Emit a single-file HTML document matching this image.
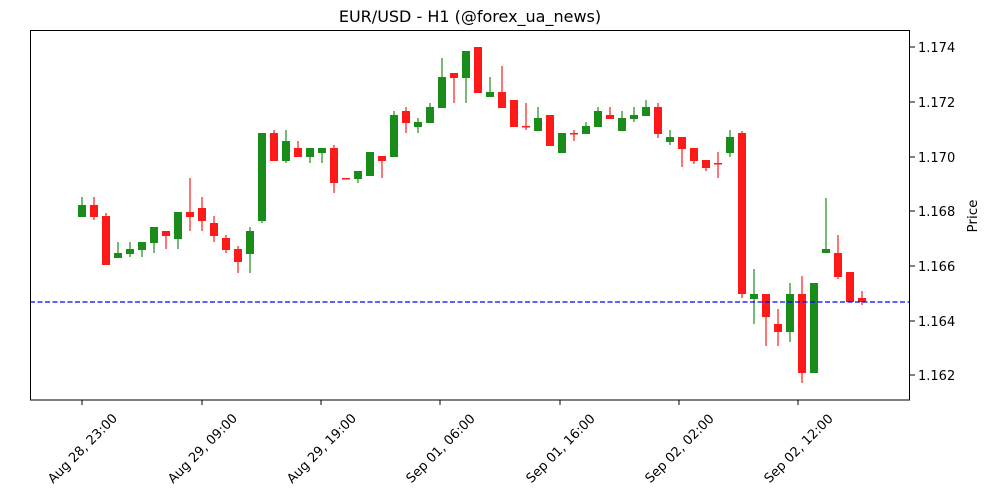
<!DOCTYPE html>
<html><head><meta charset="utf-8"><style>
body{margin:0;background:#fff;}
svg{display:block;font-family:"DejaVu Sans","Liberation Sans",sans-serif;}
</style></head><body>
<svg id="s" width="1000" height="500" viewBox="0 0 1000 500" xmlns="http://www.w3.org/2000/svg">
<rect width="1000" height="500" fill="#fff"/>
<text x="470" y="22" font-size="16" text-anchor="middle" fill="#000">EUR/USD - H1 (@forex_ua_news)</text>
<g id="c"></g>
<line x1="30" x2="910" y1="302" y2="302" stroke="#0000ff" stroke-width="1.3" stroke-dasharray="5,2.5"/>
<rect x="30.5" y="30.5" width="879" height="369.5" fill="none" stroke="#000" stroke-width="1"/>
<g font-size="13" fill="#000" stroke="none">
<g stroke="#000"><line x1="910" x2="915" y1="47" y2="47"/><line x1="910" x2="915" y1="102" y2="102"/><line x1="910" x2="915" y1="157" y2="157"/><line x1="910" x2="915" y1="211" y2="211"/><line x1="910" x2="915" y1="266" y2="266"/><line x1="910" x2="915" y1="321" y2="321"/><line x1="910" x2="915" y1="375" y2="375"/></g>
<text x="918" y="52">1.174</text><text x="918" y="107">1.172</text><text x="918" y="162">1.170</text><text x="918" y="216">1.168</text><text x="918" y="271">1.166</text><text x="918" y="326">1.164</text><text x="918" y="380">1.162</text>
<text transform="translate(977,216) rotate(-90)" text-anchor="middle" font-size="13.5">Price</text>
<g stroke="#000"><line x1="82" x2="82" y1="400" y2="405"/><line x1="202" x2="202" y1="400" y2="405"/><line x1="321" x2="321" y1="400" y2="405"/><line x1="440" x2="440" y1="400" y2="405"/><line x1="560" x2="560" y1="400" y2="405"/><line x1="679" x2="679" y1="400" y2="405"/><line x1="798" x2="798" y1="400" y2="405"/></g>
<text transform="translate(82,448) rotate(-45)" text-anchor="middle" dy="5">Aug 28, 23:00</text>
<text transform="translate(202,448) rotate(-45)" text-anchor="middle" dy="5">Aug 29, 09:00</text>
<text transform="translate(321,448) rotate(-45)" text-anchor="middle" dy="5">Aug 29, 19:00</text>
<text transform="translate(440,448) rotate(-45)" text-anchor="middle" dy="5">Sep 01, 06:00</text>
<text transform="translate(560,448) rotate(-45)" text-anchor="middle" dy="5">Sep 01, 16:00</text>
<text transform="translate(679,448) rotate(-45)" text-anchor="middle" dy="5">Sep 02, 02:00</text>
<text transform="translate(798,448) rotate(-45)" text-anchor="middle" dy="5">Sep 02, 12:00</text>
</g>
</svg>
<script>
// [bodyTop, bodyBot, wickTop, wickBot, green?]
var d=[
[205,217,197,217,1],[205,217,197,220,0],[216,265,213,265,0],[253,258,242,258,1],[249,254,242,257,1],
[242,250,242,257,1],[227,243,227,253,1],[231,236,231,249,0],[212,239,212,249,1],[212,217,178,231,0],
[208,221,197,231,0],[223,236,216,242,0],[238,250,235,253,0],[249,262,246,273,0],[231,254,227,273,1],
[133,221,133,223,1],[133,161,130,161,0],[141,161,130,163,1],[148,157,141,157,0],[148,157,148,163,1],
[148,153,148,163,1],[148,183,145,193,0],[178,179,178,179,0],[171,179,171,183,1],[152,176,152,176,1],
[156,161,156,178,0],[115,157,111,157,1],[111,123,107,133,0],[122,127,118,133,1],[107,123,103,123,1],
[77,108,58,108,1],[73,78,73,103,0],[51,78,51,103,1],[47,93,47,93,0],[92,97,77,97,1],
[92,108,66,108,0],[100,127,100,127,0],[126,127,103,130,0],[118,131,107,131,1],[115,146,115,146,0],
[133,153,133,153,1],[133,134,130,141,0],[126,134,122,134,1],[111,127,107,127,1],[115,119,107,119,0],
[118,131,111,131,1],[115,119,107,122,1],[107,116,100,116,1],[107,134,103,138,0],[137,142,130,145,1],
[137,149,137,167,0],[148,161,148,164,0],[160,168,160,171,0],[163,164,152,178,0],[137,153,130,157,1],
[133,294,131,298,0],[294,299,269,324,1],[294,317,294,346,0],[324,332,309,346,0],[294,332,283,342,1],
[294,373,276,383,0],[283,373,283,373,1],[249,253,198,253,1],[253,277,235,279,0],[272,302,272,302,0],
[298,302,291,305,0]];
var g=document.getElementById('c'),h='';
d.forEach(function(c,i){var x=82+12*i,col=c[4]?'#1a8c1a':'#ff1a1a';
h+='<line x1="'+x+'" x2="'+x+'" y1="'+c[2]+'" y2="'+c[3]+'" stroke="'+col+'" stroke-width="1.2"/>';
h+='<rect x="'+(x-4)+'" y="'+c[0]+'" width="8" height="'+Math.max(1.5,c[1]-c[0])+'" fill="'+col+'"/>';});
g.innerHTML=h;
</script>
</body></html>
